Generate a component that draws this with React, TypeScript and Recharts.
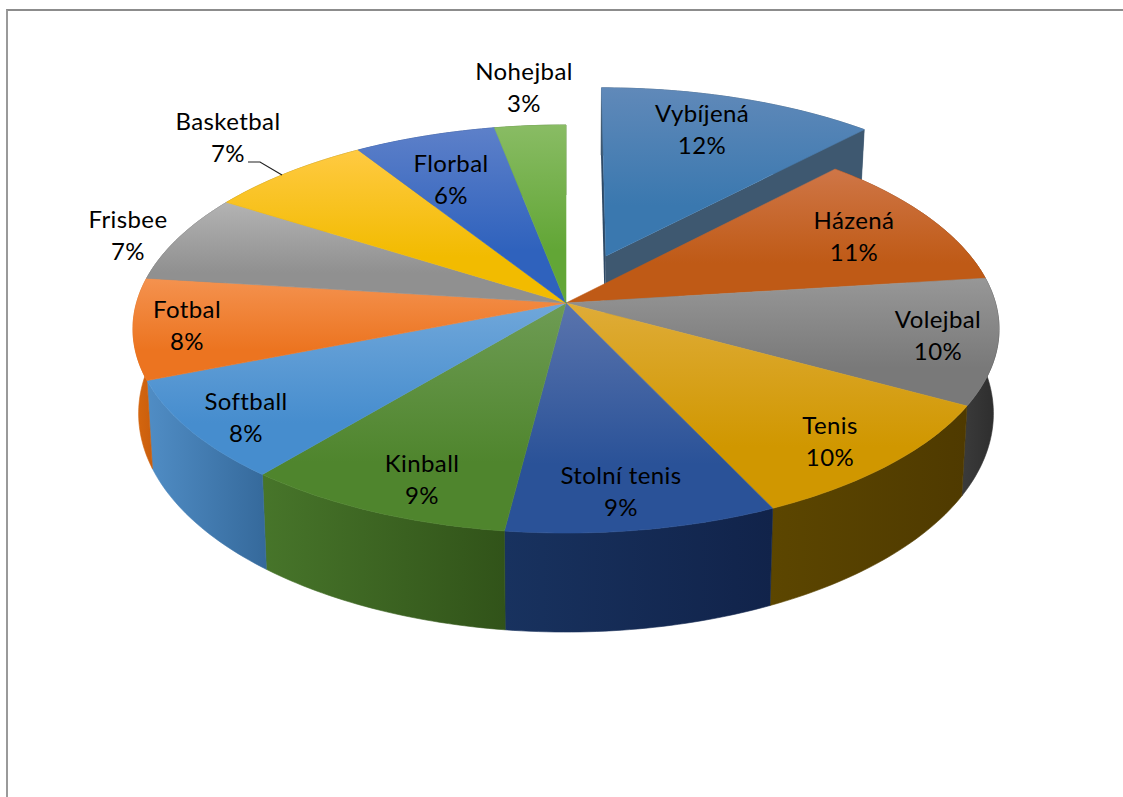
import { PieChart, Pie } from "recharts";

const WIDTH = 1123;
const HEIGHT = 797;

const sports = ["Vybíjená", "Házená", "Volejbal", "Tenis", "Stolní tenis", "Kinball", "Softball", "Fotbal", "Frisbee", "Basketbal", "Florbal", "Nohejbal"];
const shares = [12, 11, 10, 10, 9, 9, 8, 8, 7, 7, 6, 3];

// face gradient: lighter at the far edge of a slice, saturated at the near edge
const faceLight = ["#6089b9", "#cf7647", "#979797", "#dfac38", "#5a74ad", "#6e9c54", "#70a7da", "#f4924f", "#b3b3b3", "#ffca42", "#5d80c9", "#89bc64"];
const faceDeep = ["#3a78af", "#bf5a16", "#797979", "#d09700", "#2a5298", "#4f852d", "#468dce", "#ec7420", "#909090", "#f2bb00", "#2f62bd", "#62a636"];

// rim gradient, left to right
const rimLeft = ["#3e5870", "#8a4010", "#3b3b3b", "#5c4600", "#18325f", "#47752a", "#508dc5", "#d8680f", "#6a6a6a", "#a88000", "#24478a", "#47752a"];
const rimRight = ["#3e5870", "#7a380c", "#2c2c2c", "#4f3a00", "#11234a", "#315319", "#35699b", "#c95e0d", "#5a5a5a", "#987400", "#1f3c78", "#3c6524"];

const labelSpots = [
  [702, 114], [854, 221], [938, 320], [830, 426], [621, 476], [422, 464],
  [246, 402], [187, 310], [128, 220], [228, 122], [451, 164], [524, 72],
];

const pulledOut = ["Vybíjená"];

const tableData = sports.map((name, i) => ({ name, value: shares[i] }));

// the flat pie is tilted away from the viewer
const SQUASH = 0.4673;
const NEAR_FAR = -0.1274;
const PULL = 0.26;
const RIM_SHRINK = 0.987;
const RIM_DEPTH = 82.7;
const RIM_GROW = 0.071;

type Pt = { x: number; y: number };

const project = (cx: number, cy: number, r: number, deg: number, radial: number, pull: Pt): Pt => {
  const a = (deg * Math.PI) / 180;
  const u = radial * Math.sin(a) + pull.x;
  const v = -radial * Math.cos(a) + pull.y;
  const w = 1 + NEAR_FAR * v;
  return { x: cx + (r * u) / w, y: cy + (r * SQUASH * v) / w };
};

const lower = (p: Pt, cx: number, cy: number): Pt => ({
  x: cx + (p.x - cx) * RIM_SHRINK,
  y: p.y + RIM_DEPTH + (p.y - cy) * RIM_GROW,
});

const toPath = (pts: Pt[]) => "M" + pts.map((p) => `${p.x.toFixed(2)},${p.y.toFixed(2)}`).join("L") + "Z";

const sliceGeometry = (props: any) => {
  const { cx, cy, outerRadius, startAngle, endAngle, midAngle, name } = props;
  const from = 90 - startAngle;
  const to = 90 - endAngle;
  const mid = 90 - (midAngle ?? (startAngle + endAngle) / 2);
  const midRad = (mid * Math.PI) / 180;
  const pull = pulledOut.includes(name ?? props.payload?.name)
    ? { x: PULL * Math.sin(midRad), y: -PULL * Math.cos(midRad) }
    : { x: 0, y: 0 };
  const steps = Math.max(2, Math.ceil(to - from));
  const arc: Pt[] = [];
  for (let i = 0; i <= steps; i++) {
    arc.push(project(cx, cy, outerRadius, from + ((to - from) * i) / steps, 1, pull));
  }
  const apex = project(cx, cy, outerRadius, 0, 0, pull);
  return { arc, apex, pull, cx, cy };
};

const RimShape = (props: any) => {
  const { index } = props;
  const { arc, apex, pull, cx, cy } = sliceGeometry(props);
  const id = `rim-${index}`;
  const below = arc.map((p) => lower(p, cx, cy)).reverse();
  const isPulled = pull.x !== 0 || pull.y !== 0;
  const apexLow = lower(apex, cx, cy);
  return (
    <g>
      <defs>
        <linearGradient id={id} x1="0" y1="0" x2="1" y2="0">
          <stop offset="0" stopColor={rimLeft[index]} />
          <stop offset="1" stopColor={rimRight[index]} />
        </linearGradient>
      </defs>
      {isPulled && (
        <>
          <path d={toPath([apex, arc[0], lower(arc[0], cx, cy), apexLow])} fill="#2f4a66" />
          <path d={toPath([apex, arc[arc.length - 1], lower(arc[arc.length - 1], cx, cy), apexLow])} fill={rimRight[index]} />
        </>
      )}
      <path d={toPath([...arc, ...below])} fill={`url(#${id})`} stroke={`url(#${id})`} strokeWidth={0.6} />
    </g>
  );
};

const FaceShape = (props: any) => {
  const { index } = props;
  const { arc, apex } = sliceGeometry(props);
  const id = `face-${index}`;
  return (
    <g>
      <defs>
        <linearGradient id={id} x1="0" y1="0" x2="0" y2="1">
          <stop offset="0" stopColor={faceLight[index]} />
          <stop offset="0.7" stopColor={faceDeep[index]} />
          <stop offset="1" stopColor={faceDeep[index]} />
        </linearGradient>
      </defs>
      <path d={toPath([apex, ...arc])} fill={`url(#${id})`} stroke={`url(#${id})`} strokeWidth={0.6} />
    </g>
  );
};

const SliceLabel = (props: any) => {
  const { index, name, value } = props;
  const [x, y] = labelSpots[index];
  return (
    <g>
      <text x={x} textAnchor="middle" fontFamily="Lato" fontSize={24} letterSpacing={0.4} fill="#000">
        <tspan x={x} y={y + 8}>{name}</tspan>
        <tspan x={x} y={y + 39.5}>{value}%</tspan>
      </text>
      {name === "Basketbal" && (
        <polyline points="248,162 260,162 282,175" fill="none" stroke="#222" strokeWidth={1.2} />
      )}
    </g>
  );
};

export default function App() {
  return (
    <div style={{ position: "absolute", left: 0, top: 0, width: WIDTH, height: HEIGHT, background: "#fff", overflow: "hidden" }}>
      <div style={{ position: "absolute", left: 6, top: 9, right: 0, bottom: 0, borderTop: "2px solid #8c8c8c", borderLeft: "2px solid #9a9a9a" }} />
      <div style={{ position: "absolute", left: 0, top: 0 }}>
        <PieChart width={WIDTH} height={HEIGHT} margin={{ top: 0, right: 0, bottom: 0, left: 0 }}>
          <Pie
            data={tableData}
            dataKey="value"
            nameKey="name"
            cx={566}
            cy={303}
            outerRadius={429.5}
            startAngle={90}
            endAngle={-270}
            stroke="none"
            shape={RimShape}
            isAnimationActive={false}
          />
          <Pie
            data={tableData}
            dataKey="value"
            nameKey="name"
            cx={566}
            cy={303}
            outerRadius={429.5}
            startAngle={90}
            endAngle={-270}
            stroke="none"
            shape={FaceShape}
            label={SliceLabel}
            labelLine={false}
            isAnimationActive={false}
          />
        </PieChart>
      </div>
    </div>
  );
}
